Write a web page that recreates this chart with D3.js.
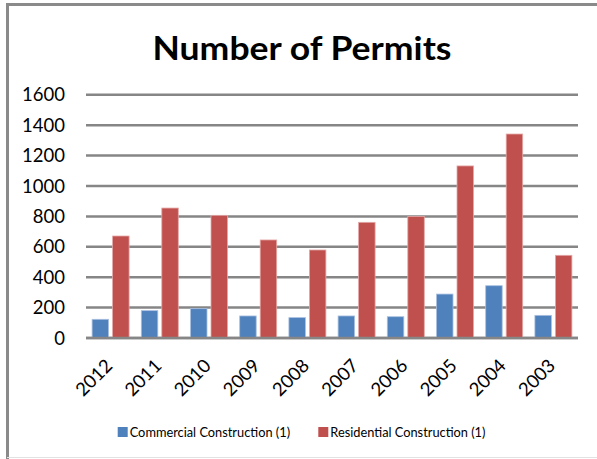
<!DOCTYPE html>
<html lang="en">
<head>
<meta charset="utf-8">
<style>
  body { margin: 0; background: #fff; }
  text { font-family: Lato, "Open Sans", sans-serif; fill: #000; }
  .grid line { stroke: #868686; stroke-width: 2.5px; }
</style>
</head>
<body>
<svg width="597" height="459"></svg>

<script src="https://d3js.org/d3.v7.min.js"></script>
<script>

// data
var years = ["2012", "2011", "2010", "2009", "2008", "2007", "2006", "2005", "2004", "2003"];
var commercial = [123, 180, 193, 145, 134, 145, 140, 289, 344, 149];
var residential = [671, 855, 807, 645, 579, 761, 800, 1132, 1342, 544];
var seriesNames = ["Commercial Construction (1)", "Residential Construction (1)"];
var seriesColors = ["#4F81BD", "#C0504D"];
var yTicks = [0, 200, 400, 600, 800, 1000, 1200, 1400, 1600];

var svg = d3.select("svg");

// frame
svg.append("path")
    .attr("d", "M7.5,459 V4.5 H597")
    .attr("fill", "none")
    .attr("stroke", "#8a8a8a")
    .attr("stroke-width", 3);
svg.append("line")
    .attr("x1", 7).attr("x2", 597)
    .attr("y1", 457.5).attr("y2", 457.5)
    .attr("stroke", "#e2e2e2");

// title
svg.append("text")
    .attr("x", 302)
    .attr("y", 60)
    .attr("text-anchor", "middle")
    .attr("font-weight", "bold")
    .attr("font-size", 33)
    .attr("textLength", 299)
    .attr("lengthAdjust", "spacingAndGlyphs")
    .text("Number of Permits");

var x = d3.scaleBand()
    .domain(years)
    .range([86, 578]);

var y = d3.scaleLinear()
    .domain([0, 1600])
    .range([338, 94.8]);

// gridlines
svg.append("g")
    .attr("class", "grid")
  .selectAll("line")
  .data(yTicks)
  .enter().append("line")
    .attr("x1", 86)
    .attr("x2", 578)
    .attr("y1", function(d) { return y(d); })
    .attr("y2", function(d) { return y(d); });

// y labels
svg.append("g")
  .selectAll("text")
  .data(yTicks)
  .enter().append("text")
    .attr("x", 65)
    .attr("y", function(d) { return y(d) + 6.5; })
    .attr("text-anchor", "end")
    .attr("font-size", 18.5)
    .text(function(d) { return d; });

// bars
var barW = 16.5, gap = 4;
var series = [commercial, residential];
series.forEach(function(vals, si) {
  svg.append("g")
    .selectAll("rect")
    .data(vals)
    .enter().append("rect")
      .attr("x", function(d, i) {
        var c = x(years[i]) + x.bandwidth() / 2;
        return si === 0 ? c - gap / 2 - barW : c + gap / 2;
      })
      .attr("width", barW)
      .attr("y", function(d) { return y(d); })
      .attr("height", function(d) { return y(0) - y(d); })
      .attr("fill", seriesColors[si])
      .attr("stroke", si === 0 ? "#a9c0e0" : "#e4a9a7")
      .attr("stroke-width", 0.8);
});

// redraw baseline over bars
svg.append("line")
    .attr("x1", 86).attr("x2", 578)
    .attr("y1", y(0)).attr("y2", y(0))
    .attr("stroke", "#868686")
    .attr("stroke-width", 2.5);

// x labels
svg.append("g")
  .selectAll("text")
  .data(years)
  .enter().append("text")
    .attr("transform", function(d) {
      return "translate(" + (x(d) + x.bandwidth() / 2 + 3) + ",367) rotate(-45)";
    })
    .attr("text-anchor", "end")
    .attr("font-size", 18.5)
    .text(function(d) { return d; });

// legend
var legendX = [117.7, 318.3];
var legend = svg.append("g")
  .selectAll("g")
  .data(seriesNames)
  .enter().append("g")
    .attr("transform", function(d, i) { return "translate(" + legendX[i] + ",427)"; });

legend.append("rect")
    .attr("width", 10)
    .attr("height", 10)
    .attr("fill", function(d, i) { return seriesColors[i]; });

legend.append("text")
    .attr("x", 12)
    .attr("y", 9.5)
    .attr("font-size", 12.8)
    .text(function(d) { return d; });

</script>
</body>
</html>
